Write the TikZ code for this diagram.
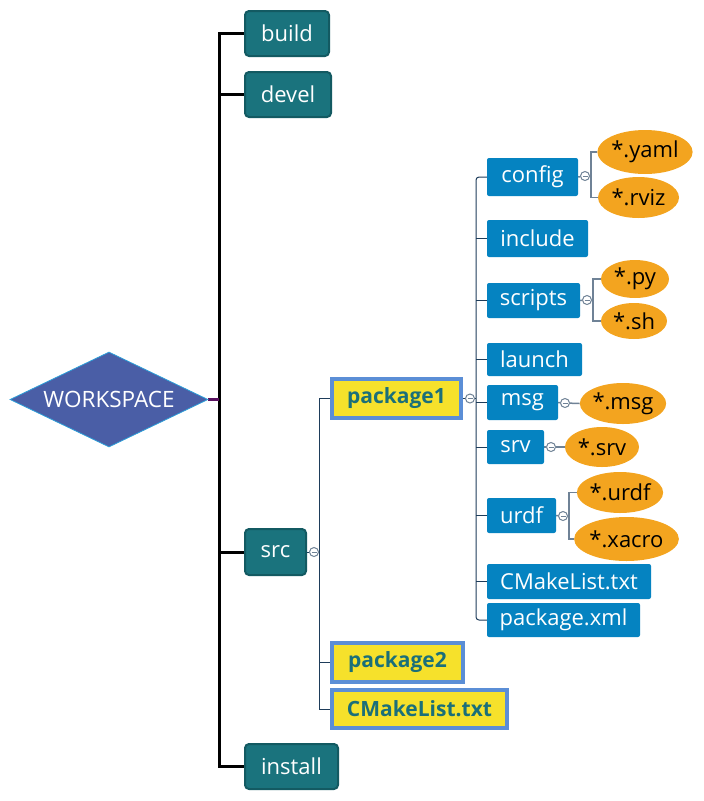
\documentclass[tikz,border=0pt]{standalone}
\usepackage{fontspec}
\setmainfont{Open Sans}
\usetikzlibrary{shapes.geometric,backgrounds}
\definecolor{tealfill}{HTML}{1A737D}
\definecolor{tealdraw}{HTML}{135A62}
\definecolor{bluebox}{HTML}{0583C1}
\definecolor{orangef}{HTML}{F3A41F}
\definecolor{yellowf}{HTML}{F6E12B}
\definecolor{yellowd}{HTML}{5B8ED6}
\definecolor{pktext}{HTML}{1B6F79}
\definecolor{diafill}{HTML}{4A5EA6}
\definecolor{diadraw}{HTML}{2C9ED8}
\definecolor{navyline}{HTML}{1E3C5A}
\definecolor{grayline}{HTML}{6F8296}
\definecolor{purpleline}{HTML}{5A1060}
\tikzset{
  tealbox/.style={draw=tealdraw, line width=2pt, fill=tealfill, rounded corners=4pt, text=white, font=\fontsize{22}{24}\selectfont, inner sep=0pt},
  bluebx/.style={fill=bluebox, rounded corners=2pt, text=white, font=\fontsize{22}{24}\selectfont, inner sep=0pt},
  yellowbx/.style={draw=yellowd, line width=4pt, fill=yellowf, text=pktext, font=\fontsize{21}{24}\selectfont\bfseries, inner sep=0pt},
  orangeel/.style={ellipse, fill=orangef, text=black, font=\fontsize{22}{24}\selectfont, inner sep=0pt},
  toggle/.style={circle, draw=grayline, fill=white, line width=1pt, minimum size=9pt, inner sep=0pt,
    path picture={\draw[grayline, line width=0.8pt] ([xshift=-2.5pt]path picture bounding box.center) -- ([xshift=2.5pt]path picture bounding box.center);}},
  trunk/.style={draw=black, line width=3pt},
  thinln/.style={draw=navyline, line width=1pt},
  grayln/.style={draw=grayline, line width=1.5pt},
}
\begin{document}
\begin{tikzpicture}[x=1pt,y=-1pt]
\useasboundingbox (0,0) rectangle (704,801);
% root
\node[diamond, aspect=2.084, minimum width=198pt, minimum height=95pt, inner sep=0pt, fill=diafill, draw=diadraw, line width=0.8pt, text=white, font=\fontsize{22.5}{24}\selectfont] (ws) at (109,399.5) {WORKSPACE};
% level 1
\node[tealbox, minimum width=84pt, minimum height=45pt] (build) at (287,33.5) {build};
\node[tealbox, minimum width=86pt, minimum height=45pt] (devel) at (288,94.5) {devel};
\node[tealbox, minimum width=61pt, minimum height=46pt] (src) at (275.5,552) {src};
\node[tealbox, minimum width=93pt, minimum height=45pt] (install) at (291.5,766.5) {install};
% level 2
\node[yellowbx, minimum width=129pt, minimum height=39pt] (pk1) at (396.5,398.5) {package1};
\node[yellowbx, minimum width=131pt, minimum height=39pt] (pk2) at (397.5,662.5) {package2};
\node[yellowbx, minimum width=175pt, minimum height=38pt] (cm1) at (419.5,709) {CMakeList.txt};
% level 3
\node[bluebx, minimum width=91pt, minimum height=38pt] (config) at (532.5,177) {config};
\node[bluebx, minimum width=101pt, minimum height=37pt] (include) at (537.5,238.5) {include};
\node[bluebx, minimum width=93pt, minimum height=35pt] (scripts) at (533.5,300.5) {scripts};
\node[bluebx, minimum width=95pt, minimum height=33pt] (launch) at (534.5,359.5) {launch};
\node[bluebx, minimum width=71pt, minimum height=35pt] (msg) at (522.5,402.5) {msg};
\node[bluebx, minimum width=57pt, minimum height=34pt] (srv) at (515.5,447) {srv};
\node[bluebx, minimum width=69pt, minimum height=35pt] (urdf) at (521.5,515.5) {urdf};
\node[bluebx, minimum width=164pt, minimum height=35pt] (cm2) at (569,581.5) {CMakeList.txt};
\node[bluebx, minimum width=153pt, minimum height=34pt] (pkx) at (563.5,620) {package.xml};
% level 4
\node[orangeel, minimum width=94pt, minimum height=44pt] (yaml) at (645,152) {*.yaml};
\node[orangeel, minimum width=81pt, minimum height=41pt] (rviz) at (638.5,197.5) {*.rviz};
\node[orangeel, minimum width=68pt, minimum height=38pt] (py) at (635,279) {*.py};
\node[orangeel, minimum width=66pt, minimum height=36pt] (sh) at (634,321) {*.sh};
\node[orangeel, minimum width=86pt, minimum height=41pt] (msgf) at (623,403.5) {*.msg};
\node[orangeel, minimum width=74pt, minimum height=40pt] (srvf) at (602,447) {*.srv};
\node[orangeel, minimum width=86pt, minimum height=41pt] (urdff) at (620,492.5) {*.urdf};
\node[orangeel, minimum width=99pt, minimum height=44pt] (xacro) at (626.5,539) {*.xacro};
% toggles
\node[toggle] (tsrc) at (314,552) {};
\node[toggle] (tpk1) at (470,398.5) {};
\node[toggle] (tcfg) at (585,176) {};
\node[toggle] (tscr) at (587,300) {};
\node[toggle] (tmsg) at (565,403) {};
\node[toggle] (tsrv) at (551,447) {};
\node[toggle] (turdf) at (563,516) {};
% vertical guide coordinates
\coordinate (tk) at (219,0);
\coordinate (sv) at (319,0);
\coordinate (pv) at (476,0);
\coordinate (cv) at (591,0);
\coordinate (scv) at (593,0);
\coordinate (uv) at (569,0);
\begin{scope}[on background layer]
% trunk
\draw[trunk] (build.west) -- (build.west -| tk) -- (install.west -| tk) -- (install.west);
\draw[trunk] (devel.west) -- (devel.west -| tk);
\draw[trunk] (src.west) -- (src.west -| tk);
\draw[draw=purpleline, line width=3pt] (ws.east) -- (ws.east -| tk);
% src
\draw[thinln] (src.east) -- (tsrc);
\draw[thinln] (pk1.west) -- (pk1.west -| sv) -- (cm1.west -| sv) -- (cm1.west);
\draw[thinln] (pk2.west) -- (pk2.west -| sv);
\draw[thinln] (tsrc.east) -- (tsrc.east -| sv);
% package1
\draw[thinln] (pk1.east) -- (tpk1);
\draw[thinln, rounded corners=3pt] (config.west) -- (config.west -| pv) -- (pkx.west -| pv) -- (pkx.west);
\foreach \n in {include,scripts,launch,msg,srv,urdf,cm2}
  \draw[thinln] (\n.west) -- (\n.west -| pv);
\draw[thinln] (tpk1.east) -- (tpk1.east -| pv);
% config
\draw[grayln] (config.east) -- (tcfg);
\draw[grayln] (yaml.west) -- (yaml.west -| cv) -- (rviz.west -| cv) -- (rviz.west);
\draw[grayln] (tcfg.east) -- (tcfg.east -| cv);
% scripts
\draw[grayln] (scripts.east) -- (tscr);
\draw[grayln] (py.west) -- (py.west -| scv) -- (sh.west -| scv) -- (sh.west);
\draw[grayln] (tscr.east) -- (tscr.east -| scv);
% msg, srv
\draw[grayln] (msg.east) -- (tmsg) -- (msgf.west);
\draw[grayln] (srv.east) -- (tsrv) -- (srvf.west);
% urdf
\draw[grayln] (urdf.east) -- (turdf);
\draw[grayln] (urdff.west) -- (urdff.west -| uv) -- (xacro.west -| uv) -- (xacro.west);
\draw[grayln] (turdf.east) -- (turdf.east -| uv);
\end{scope}
\end{tikzpicture}
\end{document}
